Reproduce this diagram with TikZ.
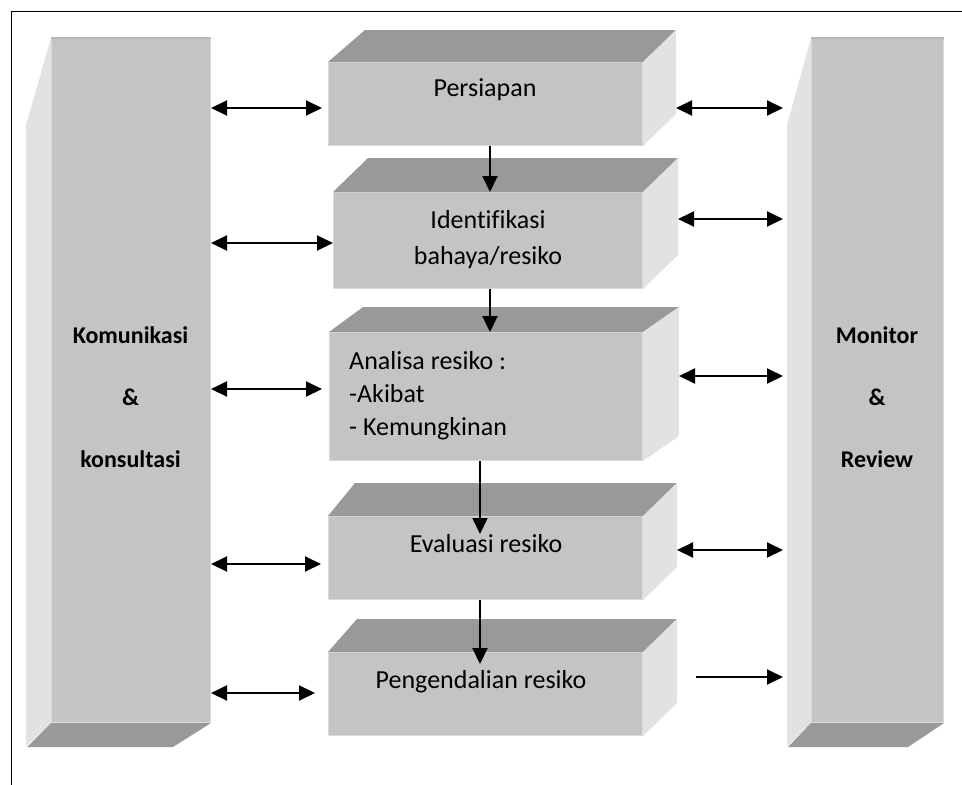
\documentclass[tikz,border=0pt]{standalone}
\usepackage{fontspec}
\setmainfont[Ligatures=NoCommon]{Carlito}
\usepackage{tikz}
\usetikzlibrary{arrows.meta, calc}
\usepackage{xcolor}
\definecolor{facegray}{HTML}{C4C4C4}
\definecolor{topgray}{HTML}{999999}
\definecolor{sidegray}{HTML}{E2E2E2}

% top and side face of a slab: node, dx left, dx right, dy
\newcommand\slabfaces[4]{%
  \fill[topgray] (#1.north west) -- (#1.north east) -- ++(#3,-#4)
    -- ($(#1.north west)+(#2,-#4)$) -- cycle;
  \fill[sidegray] (#1.north east) -- ++(#3,-#4)
    -- ($(#1.south east)+(#3,-#4)$) -- (#1.south east) -- cycle;
  \coordinate (#1-b) at ($(#1.east)+(#3,0)$);}

\begin{document}
\begin{tikzpicture}[x=1pt, y=-1pt, >={Triangle[length=16pt, width=15pt]},
  face/.style={fill=facegray, draw=black!14, line width=1pt, inner sep=0pt, anchor=north west},
  lbl/.style={font=\fontsize{26}{33}\selectfont, inner sep=0pt},
  sidelbl/.style={font=\bfseries\fontsize{24}{62}\selectfont, inner sep=0pt, align=center},
  link/.style={line width=2pt}]
  \useasboundingbox (0,0) rectangle (962,785);
  \draw[line width=1.6pt] (11.5,785) -- (11.5,11.5) -- (962,11.5);

  % pillars
  \node[face, minimum width=159pt, minimum height=684pt] (kom) at (51,38) {};
  \fill[sidegray] (kom.north west) -- ++(-25,87) -- ++(0,621) -- (kom.south west) -- cycle;
  \fill[topgray] (kom.south west) -- (kom.south east) -- ++(-38,24) -- ++(-146,0) -- cycle;
  \draw[line width=2pt, black!28] (kom.north west) -- (kom.north east);
  \node[sidelbl] (kom-t) at (130.5,397) {Komunikasi\\\&\\konsultasi};

  \node[face, minimum width=132pt, minimum height=684pt] (mon) at (811,38) {};
  \fill[sidegray] (mon.north west) -- ++(-24,87) -- ++(0,621) -- (mon.south west) -- cycle;
  \fill[topgray] (mon.south west) -- (mon.south east) -- ++(-36,24) -- ++(-120,0) -- cycle;
  \draw[line width=2pt, black!28] (mon.north west) -- (mon.north east);
  \coordinate (mon-s) at ($(mon.west)+(-24,0)$);
  \node[sidelbl] (mon-t) at (877,397) {Monitor\\\&\\Review};

  % steps
  \node[face, minimum width=314pt, minimum height=83pt] (prs) at (328,62) {};
  \slabfaces{prs}{37}{33}{32}
  \node[lbl] (prs-t) at (485,90) {Persiapan};

  \node[face, minimum width=309pt, minimum height=96pt] (idf) at (333,192) {};
  \slabfaces{idf}{35}{35}{34}
  \node[lbl, align=center, font=\fontsize{26}{36}\selectfont] (idf-t) at (488,240) {Identifikasi\\bahaya/resiko};

  \node[face, minimum width=313pt, minimum height=128pt] (ana) at (329,332) {};
  \slabfaces{ana}{34}{36}{25}
  \node[lbl, align=left, anchor=west] (ana-t) at (349,396) {Analisa resiko :\\-Akibat\\- Kemungkinan};

  \node[face, minimum width=314pt, minimum height=83pt] (eva) at (328,516) {};
  \slabfaces{eva}{27}{34}{33}
  \node[lbl] (eva-t) at (486,544) {Evaluasi resiko};

  \node[face, minimum width=314pt, minimum height=83pt] (pgd) at (328,652) {};
  \slabfaces{pgd}{29}{34}{33}
  \node[lbl] (pgd-t) at (481,682) {Pengendalian resiko};

  % flow
  \draw[link, ->] (prs.south -| 490,0) -- (idf.north -| 490,0);
  \draw[link, ->] (idf.south -| 490,0) -- (ana.north -| 490,0);
  \draw[link, ->, shorten >=-18pt] (ana.south -| 480,0) -- (eva.north -| 480,0);
  \draw[link, ->, shorten >=-12pt] (eva.south -| 480,0) -- (pgd.north -| 480,0);

  % links to the pillars
  \draw[link, <->, shorten >=6pt] (kom.east |- 0,108) -- (prs.west |- 0,108);
  \draw[link, <->] (kom.east |- 0,243) -- (idf.west |- 0,243);
  \draw[link, <->, shorten >=7pt] (kom.east |- 0,389) -- (ana.west |- 0,389);
  \draw[link, <->, shorten >=7pt] (kom.east |- 0,564) -- (eva.west |- 0,564);
  \draw[link, <->, shorten >=13pt] (kom.east |- 0,693) -- (pgd.west |- 0,693);

  \foreach \n/\y in {prs/108, idf/219, ana/376, eva/550}
    \draw[link, <->, shorten >=4pt] (\n-b |- 0,\y) -- (mon-s |- 0,\y);
  \draw[link, ->, shorten <=19pt, shorten >=4pt] (pgd-b |- 0,677) -- (mon-s |- 0,677);
\end{tikzpicture}
\end{document}
